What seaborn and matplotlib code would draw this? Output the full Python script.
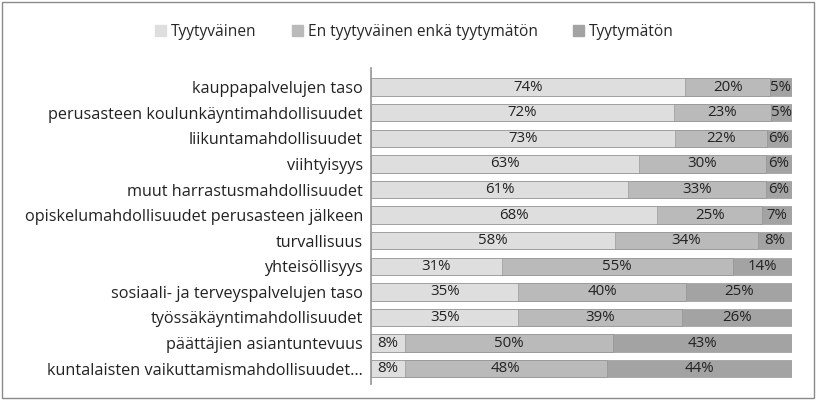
import numpy as np
import pandas as pd
import seaborn as sns
import matplotlib.pyplot as plt
from matplotlib.patches import Rectangle, Patch

categories = [
    'kauppapalvelujen taso',
    'perusasteen koulunkäyntimahdollisuudet',
    'liikuntamahdollisuudet',
    'viihtyisyys',
    'muut harrastusmahdollisuudet',
    'opiskelumahdollisuudet perusasteen jälkeen',
    'turvallisuus',
    'yhteisöllisyys',
    'sosiaali- ja terveyspalvelujen taso',
    'työssäkäyntimahdollisuudet',
    'päättäjien asiantuntevuus',
    'kuntalaisten vaikuttamismahdollisuudet…',
]
tyytyvainen = [74, 72, 73, 63, 61, 68, 58, 31, 35, 35, 8, 8]
neutraali = [20, 23, 22, 30, 33, 25, 34, 55, 40, 39, 50, 48]
tyytymaton = [5, 5, 6, 6, 6, 7, 8, 14, 25, 26, 43, 44]
series_names = ['Tyytyväinen', 'En tyytyväinen enkä tyytymätön', 'Tyytymätön']
colors = ['#dedede', '#bababa', '#a3a3a3']

sns.set_theme(style='white')
plt.rcParams['font.family'] = ['Open Sans', 'DejaVu Sans']

df = pd.DataFrame({'kategoria': categories, 'a': tyytyvainen, 'b': neutraali, 'c': tyytymaton})
tot = df[['a', 'b', 'c']].sum(axis=1)
# 100 % pinottu: normalisoidaan rivisummaan
df['s1'] = df['a'] / tot
df['s2'] = (df['a'] + df['b']) / tot
df['s3'] = 1.0

fig = plt.figure(figsize=(8.16, 4.0), dpi=100)
ax = fig.add_axes([0.455, 0.04, 0.515, 0.79])

for col, c in zip(['s3', 's2', 's1'], colors[::-1]):
    sns.barplot(data=df, x=col, y='kategoria', color=c, width=0.68, ax=ax,
                edgecolor='#8c8c8c', linewidth=0.4, saturation=1)

for i, row in df.iterrows():
    left = [0, row['s1'], row['s2']]
    right = [row['s1'], row['s2'], 1.0]
    vals = [row['a'], row['b'], row['c']]
    for l, r, v in zip(left, right, vals):
        ax.text((l + r) / 2, i, f'{v}%', ha='center', va='center', fontsize=10.8, color='#222222')

ax.set_xlim(0, 1.0)
ax.set_ylim(11.6, -0.75)
ax.set_xlabel('')
ax.set_ylabel('')
ax.set_xticks([])
ax.tick_params(axis='y', length=0, labelsize=11.7, colors='#222222', pad=6)
for s in ['top', 'right', 'bottom']:
    ax.spines[s].set_visible(False)
ax.spines['left'].set_color('#999999')

handles = [Patch(color=c) for c in colors]
fig.legend(handles, series_names, loc='upper center', bbox_to_anchor=(0.508, 0.975), ncol=3,
           frameon=False, fontsize=11.2, handlelength=0.7, handleheight=0.7,
           handletextpad=0.3, columnspacing=2.3)

fig.patches.append(Rectangle((0.003, 0.005), 0.994, 0.99, transform=fig.transFigure,
                             fill=False, edgecolor='#8a8a8a', linewidth=1))

fig.savefig('out.png', dpi=100)
